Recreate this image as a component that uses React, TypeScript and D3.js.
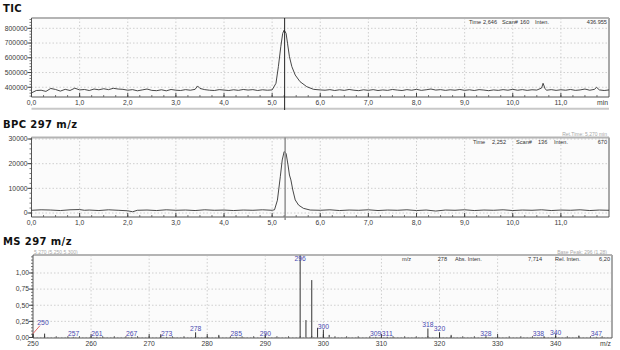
import React from 'react';
import * as d3 from 'd3';

// ---------- DATA ----------
const TIME_TICKS = [0, 1, 2, 3, 4, 5, 6, 7, 8, 9, 10, 11];
const TIC_Y_TICKS = [400000, 500000, 600000, 700000, 800000];
const BPC_Y_TICKS = [0, 10000, 20000, 30000];
const MS_Y_TICKS = [0, 0.25, 0.5, 0.75, 1.0];
const MS_X_TICKS = [250, 260, 270, 280, 290, 300, 310, 320, 330, 340];

const TIC_TIME = [
  0.0, 0.1, 0.2, 0.3, 0.4, 0.5, 0.6, 0.7, 0.8, 0.9, 1.0, 1.1, 1.2, 1.3, 1.4, 1.5, 1.6, 1.7, 1.8, 1.9,
  2.0, 2.1, 2.2, 2.3, 2.4, 2.5, 2.6, 2.7, 2.8, 2.9, 3.0, 3.1, 3.2, 3.3, 3.4, 3.45, 3.5, 3.6, 3.7, 3.8, 3.9,
  4.0, 4.1, 4.2, 4.3, 4.4, 4.5, 4.6, 4.7, 4.8, 4.9, 5.0, 5.08, 5.13, 5.18, 5.22, 5.25, 5.29, 5.32, 5.36,
  5.41, 5.48, 5.58, 5.72, 5.86, 6.0, 6.1, 6.2, 6.3, 6.4, 6.5, 6.6, 6.7, 6.8, 6.9, 7.0, 7.1, 7.2, 7.3, 7.4,
  7.5, 7.6, 7.7, 7.8, 7.9, 8.0, 8.1, 8.2, 8.3, 8.4, 8.5, 8.6, 8.7, 8.8, 8.9, 9.0, 9.1, 9.2, 9.3, 9.4, 9.5,
  9.6, 9.7, 9.8, 9.9, 10.0, 10.1, 10.2, 10.3, 10.4, 10.5, 10.6, 10.63, 10.67, 10.7, 10.8, 10.9, 11.0, 11.1,
  11.2, 11.3, 11.4, 11.5, 11.6, 11.7, 11.74, 11.8, 11.9, 12.0,
];
const TIC_VALUE = [
  362000, 378000, 380000, 372000, 392000, 385000, 374000, 386000, 378000, 394000, 382000, 385000, 378000, 388000, 383000, 390000, 384000, 393000, 388000, 386000,
  380000, 384000, 376000, 382000, 388000, 379000, 377000, 383000, 376000, 385000, 380000, 378000, 384000, 380000, 386000, 409000, 392000, 384000, 380000, 378000, 384000,
  381000, 378000, 383000, 379000, 385000, 381000, 384000, 378000, 383000, 380000, 382000, 427000, 540000, 675000, 766000, 788000, 766000, 698000, 607000,
  540000, 483000, 438000, 404000, 386000, 382000, 380000, 384000, 378000, 383000, 379000, 385000, 380000, 377000, 383000, 379000, 384000, 378000, 382000, 379000,
  385000, 381000, 378000, 384000, 380000, 386000, 379000, 383000, 388000, 381000, 384000, 379000, 383000, 380000, 385000, 379000, 383000, 378000, 384000, 381000, 377000,
  382000, 379000, 384000, 380000, 386000, 380000, 384000, 379000, 383000, 381000, 395000, 427000, 392000, 380000, 384000, 379000, 383000, 380000,
  385000, 379000, 382000, 388000, 380000, 386000, 400000, 382000, 378000, 382000,
];

const BPC_TIME = [
  0.0, 0.2, 0.4, 0.6, 0.8, 1.0, 1.1, 1.2, 1.4, 1.6, 1.8, 2.0, 2.1, 2.2, 2.4, 2.6, 2.8, 3.0, 3.2, 3.4, 3.6, 3.8,
  4.0, 4.2, 4.4, 4.6, 4.8, 5.0, 5.05, 5.11, 5.17, 5.21, 5.25, 5.29, 5.33, 5.36, 5.39, 5.43, 5.48, 5.55, 5.65,
  5.79, 6.0, 6.2, 6.4, 6.6, 6.8, 7.0, 7.2, 7.4, 7.6, 7.8, 8.0, 8.2, 8.4, 8.6, 8.8, 9.0, 9.2, 9.4, 9.6, 9.8,
  10.0, 10.2, 10.4, 10.6, 10.8, 11.0, 11.2, 11.4, 11.6, 11.8, 12.0,
];
const BPC_VALUE = [
  1100, 1300, 1200, 1000, 1300, 1400, 1100, 1200, 1000, 1300, 1100, 900, 500, 1100, 1200, 1000, 1300, 1100, 1200, 1000, 1300, 1100,
  1200, 1000, 1200, 1100, 1300, 1100, 1300, 5200, 14700, 21500, 24900, 24200, 19500, 15400, 13400, 9300, 5300, 3200, 1900,
  1200, 1100, 1300, 1000, 1200, 1100, 1300, 1000, 1200, 1100, 1300, 1000, 1200, 800, 1200, 1100, 1300, 1000, 1200, 1100, 1300,
  1000, 1200, 1100, 1300, 1000, 1200, 1100, 1300, 1000, 1200, 1100,
];

const MS_MZ = [250, 252, 257, 261, 267, 272, 273, 278, 282, 285, 290, 296, 297, 298, 299, 300, 301, 309, 311, 318, 320, 322, 328, 338, 340, 344, 347];
const MS_INT = [0.06, 0.06, 0.01, 0.01, 0.01, 0.05, 0.01, 0.08, 0.04, 0.01, 0.01, 1.3, 0.27, 0.89, 0.15, 0.12, 0.04, 0.01, 0.01, 0.14, 0.08, 0.04, 0.01, 0.01, 0.02, 0.03, 0.01];
const MS_LABELED = [250, 257, 261, 267, 273, 278, 285, 290, 296, 300, 309, 311, 318, 320, 328, 338, 340, 347];
const MS_LABEL_END = [338];
const MS_CALLOUT = [250];

// ---------- STYLE ----------
const TICK_FONT = "'Liberation Sans', Arial, sans-serif";
const TITLE_FONT = "'DejaVu Sans', Verdana, sans-serif";

type AxisProps = {
  x: d3.ScaleLinear<number, number>;
  y: d3.ScaleLinear<number, number>;
  xTicks: number[];
  yTicks: number[];
  xMinorStep: number;
  yMinorStep: number;
  xFmt: (v: number) => string;
  yFmt: (v: number) => string;
  unit?: string;
};

function Frame({ x, y, xTicks, yTicks, xMinorStep, yMinorStep, xFmt, yFmt, unit }: AxisProps) {
  const [x0, x1] = x.range();
  const [yb, yt] = y.range();
  const [dx0, dx1] = x.domain();
  const [dy0, dy1] = y.domain();
  const xMinor = d3.range(Math.ceil(dx0 / xMinorStep) * xMinorStep, dx1, xMinorStep);
  const yMinor = d3.range(Math.ceil(dy0 / yMinorStep) * yMinorStep, dy1, yMinorStep);
  return (
    <g>
      {xTicks.filter((t) => x(t) > x0 + 1).map((t) => (
        <line key={'gx' + t} x1={x(t)} x2={x(t)} y1={yt} y2={yb} stroke="#c4c4c4" strokeWidth={0.8} strokeDasharray="1.5,2" />
      ))}
      {yTicks.map((t) => (
        <line key={'gy' + t} x1={x0} x2={x1} y1={y(t)} y2={y(t)} stroke="#c4c4c4" strokeWidth={0.8} strokeDasharray="1.5,2" />
      ))}
      <line x1={x0} x2={x1} y1={yt} y2={yt} stroke="#b4b4b4" strokeWidth={2} />
      <line x1={x1} x2={x1} y1={yt} y2={yb} stroke="#a8a8a8" strokeWidth={2} />
      <line x1={x0} x2={x1} y1={yb} y2={yb} stroke="#555" strokeWidth={1} />
      <line x1={x0} x2={x0} y1={yt} y2={yb} stroke="#555" strokeWidth={1} />
      {xMinor.map((t) => (
        <line key={'mx' + t} x1={x(t)} x2={x(t)} y1={yb} y2={yb - 2} stroke="#555" strokeWidth={0.8} />
      ))}
      {xTicks.map((t) => (
        <g key={'tx' + t}>
          <line x1={x(t)} x2={x(t)} y1={yb} y2={yb - 4} stroke="#444" strokeWidth={1} />
          <text x={x(t)} y={yb + 8} textAnchor="middle" fontSize={6.8} fontFamily={TICK_FONT} fill="#3a3a3a">{xFmt(t)}</text>
        </g>
      ))}
      {unit && (
        <text x={x1 - 1} y={yb + 8} textAnchor="end" fontSize={6.8} fontFamily={TICK_FONT} fill="#3a3a3a">{unit}</text>
      )}
      {yMinor.map((t) => (
        <line key={'my' + t} x1={x0} x2={x0 - 2} y1={y(t)} y2={y(t)} stroke="#555" strokeWidth={0.8} />
      ))}
      {yTicks.map((t) => (
        <g key={'ty' + t}>
          <line x1={x0} x2={x0 - 4} y1={y(t)} y2={y(t)} stroke="#444" strokeWidth={1} />
          <text x={x0 - 4} y={y(t) + 2.3} textAnchor="end" fontSize={6.8} fontFamily={TICK_FONT} fill="#3a3a3a">{yFmt(t)}</text>
        </g>
      ))}
    </g>
  );
}

const fmtTime = (v: number) => d3.format('.1f')(v).replace('.', ',');
const fmtInt = (v: number) => String(v);
const fmtMs = (v: number) => d3.format('.2f')(v).replace('.', ',');

export default function App() {
  // TIC
  const xT = d3.scaleLinear().domain([0, 12]).range([31.5, 609]);
  const yT = d3.scaleLinear().domain([334000, 870000]).range([97, 18]);
  const ticLine = d3.line<number>().x((_, i) => xT(TIC_TIME[i])).y((d) => yT(d));
  // BPC
  const xB = d3.scaleLinear().domain([0, 12]).range([31.5, 609]);
  const yB = d3.scaleLinear().domain([-1620, 30610]).range([217, 137.5]);
  const bpcLine = d3.line<number>().x((_, i) => xB(BPC_TIME[i])).y((d) => yB(d));
  // MS
  const xM = d3.scaleLinear().domain([250, 349.7]).range([33, 612]);
  const yM = d3.scaleLinear().domain([-0.008, 1.279]).range([338, 255]);

  const hdr = { fontSize: 5.6, fontFamily: TICK_FONT, fill: '#333' } as const;
  const faded = { fontSize: 5, fontFamily: TICK_FONT, fill: '#a8a8a8' } as const;

  return (
    <svg width={620} height={350} style={{ position: 'absolute', left: 0, top: 0, background: '#fff' }}>
      <rect x={0} y={0} width={620} height={350} fill="#fff" />
      {/* ---- TIC ---- */}
      <text x={3} y={12} fontSize={10} fontWeight="bold" fontFamily={TITLE_FONT} fill="#111" letterSpacing={0.4}>TIC</text>
      <rect x={31.5} y={18} width={577.5} height={79} fill="#fbfbfb" />
      <Frame x={xT} y={yT} xTicks={TIME_TICKS} yTicks={TIC_Y_TICKS} xMinorStep={0.25} yMinorStep={20000} xFmt={fmtTime} yFmt={fmtInt} unit="min" />
      <line x1={31.5} x2={609} y1={108.8} y2={108.8} stroke="#c8c8c8" strokeWidth={2} />
      <path d={ticLine(TIC_VALUE) || ''} fill="none" stroke="#333" strokeWidth={0.9} />
      <line x1={xT(5.26)} x2={xT(5.26)} y1={18} y2={110} stroke="#222" strokeWidth={1} />
      <text x={469} y={24} {...hdr}>Time</text>
      <text x={483} y={24} {...hdr}>2,646</text>
      <text x={502} y={24} {...hdr}>Scan#</text>
      <text x={520} y={24} {...hdr}>160</text>
      <text x={535} y={24} {...hdr}>Inten.</text>
      <text x={607} y={24} textAnchor="end" {...hdr}>436.955</text>

      {/* ---- BPC ---- */}
      <text x={3} y={128} fontSize={10} fontWeight="bold" fontFamily={TITLE_FONT} fill="#111" letterSpacing={0.4}>BPC 297 m/z</text>
      <text x={607} y={136} textAnchor="end" {...faded}>Ret.Time: 5,270 min</text>
      <rect x={31.5} y={137.5} width={577.5} height={79.5} fill="#fbfbfb" />
      <Frame x={xB} y={yB} xTicks={TIME_TICKS} yTicks={BPC_Y_TICKS} xMinorStep={0.25} yMinorStep={2000} xFmt={fmtTime} yFmt={fmtInt} />
      <path d={bpcLine(BPC_VALUE) || ''} fill="none" stroke="#333" strokeWidth={0.9} />
      <line x1={xB(5.27)} x2={xB(5.27)} y1={137.5} y2={220} stroke="#888" strokeWidth={1.4} />
      <text x={473} y={143.5} {...hdr}>Time</text>
      <text x={492} y={143.5} {...hdr}>2,252</text>
      <text x={516} y={143.5} {...hdr}>Scan#</text>
      <text x={538} y={143.5} {...hdr}>136</text>
      <text x={554} y={143.5} {...hdr}>Inten.</text>
      <text x={607} y={143.5} textAnchor="end" {...hdr}>670</text>

      {/* ---- MS ---- */}
      <text x={3} y={245} fontSize={10} fontWeight="bold" fontFamily={TITLE_FONT} fill="#111" letterSpacing={0.4}>MS 297 m/z</text>
      <text x={34} y={254} {...faded}>5,270 (5,250,5,300)</text>
      <text x={607} y={254} textAnchor="end" {...faded}>Base Peak: 296 (1,28)</text>
      <rect x={33} y={255.5} width={579} height={82.5} fill="#fbfbfb" />
      <Frame x={xM} y={yM} xTicks={MS_X_TICKS} yTicks={MS_Y_TICKS} xMinorStep={2} yMinorStep={0.05} xFmt={fmtInt} yFmt={fmtMs} unit="m/z" />
      {MS_MZ.map((mz, i) => (
        <line key={'b' + mz} x1={xM(mz)} x2={xM(mz)} y1={yM(0)} y2={Math.max(yM(MS_INT[i]), 255.5)} stroke="#333" strokeWidth={1} />
      ))}
      {MS_MZ.map((mz, i) => {
        if (MS_LABELED.indexOf(mz) < 0) return null;
        const top = Math.max(yM(MS_INT[i]), 255.5);
        const callout = MS_CALLOUT.indexOf(mz) >= 0;
        const lx = callout ? xM(mz) + 10 : xM(mz);
        const ly = callout ? top - 9 : Math.max(top - 1, 261);
        const anchor = MS_LABEL_END.indexOf(mz) >= 0 ? 'end' : 'middle';
        return (
          <g key={'l' + mz}>
            {callout && <line x1={xM(mz)} y1={top} x2={lx - 3} y2={ly + 1} stroke="#e04040" strokeWidth={0.8} />}
            <text x={lx} y={ly} textAnchor={anchor} fontSize={6.8} fontFamily={TICK_FONT} fill="#4a4ab0">{mz}</text>
          </g>
        );
      })}
      <text x={402} y={260.5} {...hdr}>m/z</text>
      <text x={447} y={260.5} textAnchor="end" {...hdr}>278</text>
      <text x={455} y={260.5} {...hdr}>Abs. Inten.</text>
      <text x={542} y={260.5} textAnchor="end" {...hdr}>7,714</text>
      <text x={555} y={260.5} {...hdr}>Rel. Inten.</text>
      <text x={610} y={260.5} textAnchor="end" {...hdr}>6,20</text>
    </svg>
  );
}
